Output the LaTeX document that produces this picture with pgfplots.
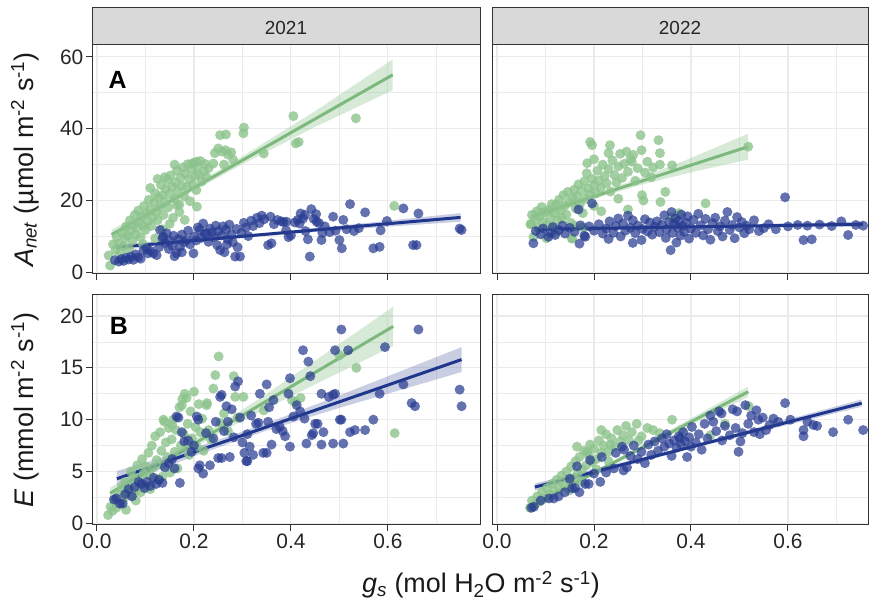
\documentclass[border=0pt]{standalone}
\usepackage{pgfplots}
\pgfplotsset{compat=1.18}
\usepackage{fontspec}
\setmainfont{Liberation Sans}
\definecolor{ptgreen}{RGB}{140,195,140}
\definecolor{lgreen}{RGB}{125,185,125}
\definecolor{ptblue}{RGB}{40,60,145}
\definecolor{lblue}{RGB}{30,55,140}
\definecolor{gridmaj}{RGB}{235,235,235}
\definecolor{stripgray}{RGB}{217,217,217}
\pgfplotsset{
  panel/.style={
    scale only axis, anchor=south west,
    axis line style={draw=black!80, line width=1bp},
    tick align=outside, major tick length=6bp, minor tick length=0pt,
    xtick pos=left, ytick pos=left,
    tick style={draw=black!80, line width=1bp},
    grid=both,
    major grid style={draw=gridmaj, line width=1.1bp},
    minor grid style={draw=gridmaj, line width=0.55bp},
    tick label style={font=\fontsize{21}{21}\selectfont, text=black!85},
    /pgf/number format/assume math mode=true,
    xtick={0,0.2,0.4,0.6}, minor xtick={0.1,0.3,0.5,0.7},
    yticklabel style={inner sep=2.5bp},
    xticklabel style={inner sep=3bp},
  },
  gpts/.style={only marks, mark=*, mark size=5bp, color=ptgreen, mark options={draw opacity=0, fill=ptgreen, fill opacity=0.8}},
  bpts/.style={only marks, mark=*, mark size=5bp, color=ptblue, mark options={draw opacity=0, fill=ptblue, fill opacity=0.72}},
  grib/.style={draw=none, fill=ptgreen, fill opacity=0.35},
  brib/.style={draw=none, fill=ptblue, fill opacity=0.25},
  gline/.style={lgreen, line width=3bp, no marks},
  bline/.style={lblue, line width=3bp, no marks},
  toprow/.style={ymin=-0.45, ymax=63.3, ytick={0,20,40,60}, minor ytick={10,30,50}, xticklabels={}},
  botrow/.style={ymin=-0.16, ymax=22.03, ytick={0,5,10,15,20}, minor ytick={2.5,7.5,12.5,17.5}, xticklabels={0.0,0.2,0.4,0.6}},
  leftcol/.style={xmin=-0.0103, xmax=0.79, width=388bp},
  rightcol/.style={xmin=-0.0103, xmax=0.765, width=376bp, yticklabels={}, y tick style={draw=none}},
}
\begin{document}
\begin{tikzpicture}[x=1bp,y=1bp]
\path[use as bounding box] (0,0) rectangle (873,605);
% strips
\draw[fill=stripgray, draw=black!80, line width=1bp] (92,560) rectangle (480,597);
\draw[fill=stripgray, draw=black!80, line width=1bp] (492,560) rectangle (868,597);
\node[anchor=base, font=\fontsize{19}{19}\selectfont, text=black!85] at (286,570) {2021};
\node[anchor=base, font=\fontsize{19}{19}\selectfont, text=black!85] at (680,570) {2022};

% ---------------- top left: 2021 Anet
\begin{axis}[panel, leftcol, toprow, at={(92bp,331bp)}, height=229bp]
\addplot[gpts] coordinates {
(0.024,4.7) (0.027,1.9) (0.033,7.8) (0.038,6.2) (0.041,9.9) (0.045,8.0) (0.048,5.5) (0.052,11.0) (0.055,7.3) (0.058,9.5)
(0.060,12.8) (0.063,10.2) (0.066,6.5) (0.068,14.5) (0.070,11.5) (0.073,8.8) (0.075,13.2) (0.078,16.0) (0.080,10.5) (0.083,12.4)
(0.085,17.2) (0.087,14.1) (0.090,9.8) (0.092,15.6) (0.095,13.0) (0.097,18.5) (0.100,11.8) (0.102,16.4) (0.105,14.2) (0.107,20.2)
(0.110,17.6) (0.112,12.9) (0.115,15.3) (0.118,19.4) (0.120,22.0) (0.122,16.8) (0.125,14.5) (0.127,20.8) (0.130,18.3) (0.132,24.3)
(0.135,21.5) (0.137,16.0) (0.140,19.6) (0.142,23.2) (0.145,25.8) (0.147,18.1) (0.150,21.8) (0.152,27.0) (0.155,23.9) (0.157,15.2)
(0.160,20.5) (0.162,25.0) (0.165,28.3) (0.167,22.6) (0.170,18.9) (0.172,26.4) (0.175,24.1) (0.177,29.2) (0.180,21.2) (0.182,27.5)
(0.185,23.7) (0.187,30.1) (0.190,25.9) (0.192,19.8) (0.195,28.6) (0.197,24.4) (0.200,30.5) (0.202,26.8) (0.205,22.9) (0.207,29.4)
(0.210,27.2) (0.213,31.0) (0.216,25.3) (0.220,28.1) (0.223,30.2) (0.226,26.5) (0.230,29.0) (0.206,18.3) (0.181,14.6) (0.150,13.5)
(0.120,9.5) (0.095,7.8) (0.135,12.0) (0.170,16.8) (0.110,23.5) (0.140,26.5) (0.125,26.0) (0.160,30.0) (0.205,30.8) (0.165,18.7)
(0.243,33.2) (0.250,34.5) (0.258,33.6) (0.265,34.0) (0.270,32.8) (0.277,33.4) (0.281,31.3) (0.254,38.2) (0.266,38.4) (0.302,38.7)
(0.303,40.3) (0.344,33.1) (0.405,43.5) (0.410,35.9) (0.416,36.3) (0.534,42.9) (0.613,18.5) (0.262,30.0) (0.240,30.3) (0.196,30.3)
};
\addplot[bpts] coordinates {
(0.037,3.4) (0.045,3.0) (0.050,3.7) (0.055,3.2) (0.060,4.1) (0.065,3.6) (0.070,4.4) (0.075,3.5) (0.080,5.0) (0.085,4.2)
(0.090,3.8) (0.096,6.2) (0.102,6.7) (0.105,5.3) (0.110,6.0) (0.116,5.3) (0.123,4.8) (0.128,7.0) (0.130,11.8) (0.135,9.5)
(0.137,9.9) (0.140,8.2) (0.144,10.9) (0.148,6.5) (0.150,8.8) (0.155,7.4) (0.158,10.2) (0.164,5.3) (0.168,9.2) (0.171,7.1)
(0.175,10.5) (0.180,8.4) (0.185,9.0) (0.188,11.6) (0.192,7.8) (0.199,5.3) (0.200,10.0) (0.205,8.9) (0.208,12.5) (0.212,11.8)
(0.215,9.6) (0.219,13.6) (0.222,10.8) (0.226,10.9) (0.230,8.5) (0.233,12.2) (0.237,11.1) (0.240,9.8) (0.245,13.0) (0.248,7.6)
(0.250,11.5) (0.254,6.2) (0.257,10.3) (0.260,12.8) (0.263,5.6) (0.266,11.9) (0.270,9.2) (0.273,13.3) (0.277,10.6) (0.280,8.4)
(0.285,4.4) (0.288,12.1) (0.295,4.4) (0.298,11.0) (0.303,13.8) (0.307,12.5) (0.312,10.1) (0.318,14.4) (0.322,12.9) (0.330,15.2)
(0.335,13.7) (0.340,15.8) (0.345,14.8) (0.353,7.6) (0.360,8.1) (0.358,15.5) (0.365,13.4) (0.372,14.6) (0.380,14.2) (0.390,11.7)
(0.395,9.8) (0.400,10.3) (0.408,13.9) (0.414,14.6) (0.420,16.4) (0.425,15.0) (0.430,11.5) (0.435,9.2) (0.439,4.4) (0.442,17.6)
(0.447,14.9) (0.452,16.2) (0.458,13.7) (0.463,9.0) (0.470,12.8) (0.480,11.2) (0.487,15.5) (0.492,11.6) (0.500,9.0) (0.505,6.7)
(0.508,14.6) (0.515,12.0) (0.522,19.0) (0.530,11.5) (0.540,12.3) (0.553,16.7) (0.570,6.7) (0.583,7.1) (0.585,11.7) (0.598,14.3)
(0.632,17.8) (0.652,7.6) (0.659,7.6) (0.663,16.4) (0.748,12.2) (0.752,11.8) (0.465,11.0) (0.385,14.0) (0.290,7.0) (0.268,7.8)
(0.160,4.5) (0.175,5.6) (0.391,14.1) (0.418,13.6) (0.429,16.0) (0.453,14.1)
};
\addplot[grib] coordinates {(0.03,11.9) (0.10,16.8) (0.17,22.0) (0.30,32.3) (0.45,44.9) (0.61,59.3) (0.61,50.7) (0.45,40.5) (0.30,30.1) (0.17,20.5) (0.10,15.0) (0.03,9.1)} -- cycle;
\addplot[gline] coordinates {(0.03,10.5) (0.61,55.0)};
\addplot[brib] coordinates {(0.04,7.9) (0.2,9.37) (0.35,11.07) (0.5,12.98) (0.75,16.5) (0.75,14.1) (0.5,11.78) (0.35,10.17) (0.2,8.37) (0.04,6.1)} -- cycle;
\addplot[bline] coordinates {(0.04,7.0) (0.75,15.3)};
\node[anchor=base west, font=\bfseries\fontsize{25}{25}\selectfont] at (rel axis cs:0.034,0.81) {A};
\end{axis}

% ---------------- top right: 2022 Anet
\begin{axis}[panel, rightcol, toprow, at={(492bp,331bp)}, height=229bp]
\addplot[gpts] coordinates {
(0.070,13.5) (0.072,16.0) (0.075,9.9) (0.078,14.8) (0.082,17.0) (0.085,12.5) (0.088,15.5) (0.092,18.2) (0.095,14.0) (0.098,16.8)
(0.102,9.5) (0.104,13.2) (0.107,17.5) (0.110,15.2) (0.113,19.0) (0.116,12.8) (0.119,16.4) (0.122,18.8) (0.125,14.6) (0.128,20.2)
(0.131,17.3) (0.134,15.0) (0.137,21.5) (0.140,18.6) (0.143,16.1) (0.146,22.4) (0.149,19.5) (0.152,13.8) (0.154,9.5) (0.156,20.8)
(0.159,23.0) (0.162,17.8) (0.165,21.2) (0.168,24.5) (0.171,19.0) (0.174,22.8) (0.177,16.5) (0.180,25.3) (0.183,20.5) (0.185,27.6)
(0.186,30.4) (0.188,23.4) (0.191,21.8) (0.192,36.3) (0.196,35.4) (0.196,26.0) (0.200,24.2) (0.200,31.5) (0.204,22.0) (0.207,28.3)
(0.210,25.6) (0.214,23.5) (0.218,30.0) (0.222,26.8) (0.226,24.8) (0.230,28.8) (0.233,35.4) (0.234,22.5) (0.238,31.2) (0.242,27.1)
(0.246,25.0) (0.250,29.5) (0.254,33.0) (0.258,26.3) (0.262,30.2) (0.267,33.6) (0.270,28.0) (0.275,31.5) (0.278,30.8) (0.281,32.7)
(0.285,25.5) (0.290,29.0) (0.296,38.2) (0.298,34.0) (0.299,21.5) (0.302,20.0) (0.305,27.8) (0.310,30.8) (0.318,26.5) (0.322,29.2)
(0.333,36.8) (0.336,33.2) (0.336,30.0) (0.337,19.6) (0.347,22.4) (0.361,29.8) (0.361,15.4) (0.375,16.5) (0.430,19.2) (0.518,35.0)
(0.178,12.5) (0.200,18.5) (0.215,17.0) (0.250,20.5) (0.270,17.5) (0.120,11.0) (0.160,13.0) (0.069,13.4) (0.155,9.4) (0.230,33.2)
};
\addplot[bpts] coordinates {
(0.075,8.1) (0.080,11.5) (0.090,10.6) (0.095,12.2) (0.106,9.9) (0.110,11.0) (0.115,12.6) (0.120,10.4) (0.128,11.8) (0.135,13.0)
(0.140,10.8) (0.150,12.4) (0.160,11.3) (0.168,17.5) (0.172,13.1) (0.180,10.2) (0.182,9.9) (0.190,12.8) (0.196,19.2) (0.200,11.6)
(0.210,13.4) (0.218,10.8) (0.225,12.2) (0.232,14.2) (0.240,11.0) (0.245,12.9) (0.250,15.0) (0.255,10.0) (0.260,13.6) (0.265,11.6)
(0.270,15.8) (0.275,12.4) (0.280,14.5) (0.285,10.9) (0.290,13.0) (0.298,9.0) (0.300,12.1) (0.305,14.8) (0.310,11.4) (0.315,13.9)
(0.320,10.5) (0.325,12.7) (0.330,14.2) (0.335,11.2) (0.340,13.3) (0.345,15.9) (0.348,9.6) (0.350,12.0) (0.355,14.0) (0.358,6.2)
(0.360,16.8) (0.362,11.0) (0.365,13.6) (0.368,15.0) (0.370,8.3) (0.372,12.5) (0.375,14.3) (0.378,10.2) (0.380,16.1) (0.383,12.9)
(0.386,11.3) (0.390,13.8) (0.393,15.6) (0.396,9.4) (0.400,12.2) (0.405,14.6) (0.410,11.0) (0.415,16.3) (0.420,13.1) (0.425,10.3)
(0.430,14.9) (0.435,12.0) (0.440,9.1) (0.445,13.7) (0.450,15.2) (0.455,11.5) (0.460,12.8) (0.465,10.0) (0.470,14.4) (0.475,16.8)
(0.480,11.8) (0.485,13.2) (0.490,9.5) (0.495,15.4) (0.500,12.5) (0.505,14.0) (0.510,10.9) (0.515,13.0) (0.520,12.0) (0.530,14.5)
(0.540,11.5) (0.550,12.3) (0.560,13.4) (0.575,12.0) (0.594,20.9) (0.600,12.8) (0.620,13.2) (0.632,9.0) (0.640,13.0) (0.649,9.2)
(0.665,13.3) (0.690,12.9) (0.710,14.2) (0.724,10.4) (0.740,13.2) (0.755,13.0) (0.170,8.0) (0.230,9.3) (0.280,8.2)
};
\addplot[grib] coordinates {(0.071,17.1) (0.15,19.84) (0.22,22.7) (0.3,26.48) (0.4,31.84) (0.518,38.6) (0.518,31.4) (0.4,27.84) (0.3,24.48) (0.22,21.3) (0.15,18.04) (0.071,13.9)} -- cycle;
\addplot[gline] coordinates {(0.071,15.5) (0.518,35.0)};
\addplot[brib] coordinates {(0.078,12.7) (0.4,13.02) (0.755,14.11) (0.755,12.71) (0.4,12.32) (0.078,11.3)} -- cycle;
\addplot[bline] coordinates {(0.078,12.0) (0.755,13.41)};
\end{axis}

% ---------------- bottom left: 2021 E
\begin{axis}[panel, leftcol, botrow, at={(92bp,80bp)}, height=230bp]
\addplot[gpts] coordinates {
(0.023,0.8) (0.028,1.6) (0.032,1.2) (0.036,2.2) (0.040,1.5) (0.044,2.8) (0.048,1.9) (0.052,3.4) (0.055,2.4) (0.058,4.0)
(0.062,2.9) (0.066,3.6) (0.070,5.0) (0.073,2.7) (0.076,4.4) (0.080,3.2) (0.083,5.6) (0.086,4.0) (0.090,3.0) (0.093,6.2)
(0.096,4.8) (0.100,5.5) (0.103,3.6) (0.106,6.8) (0.110,4.6) (0.113,7.5) (0.116,5.4) (0.120,8.4) (0.123,6.1) (0.126,4.2)
(0.130,8.8) (0.133,7.0) (0.136,5.6) (0.139,9.8) (0.142,7.8) (0.145,6.4) (0.148,9.2) (0.151,4.9) (0.154,8.1) (0.157,10.0)
(0.160,6.9) (0.163,9.0) (0.166,5.3) (0.170,11.2) (0.173,7.5) (0.176,12.0) (0.179,8.6) (0.181,12.5) (0.185,12.1) (0.187,9.6)
(0.190,6.6) (0.193,10.8) (0.196,8.2) (0.200,12.7) (0.203,9.3) (0.206,7.4) (0.210,11.5) (0.213,8.8) (0.217,10.1) (0.220,7.0)
(0.226,11.4) (0.230,9.0) (0.235,8.1) (0.240,13.0) (0.244,14.3) (0.251,16.1) (0.255,9.7) (0.262,10.6) (0.270,8.9) (0.282,14.2)
(0.290,10.2) (0.302,12.2) (0.344,10.9) (0.402,11.9) (0.409,11.7) (0.420,12.1) (0.500,16.2) (0.535,15.0) (0.614,8.7) (0.060,1.3)
(0.080,2.2) (0.110,3.3) (0.135,4.5) (0.227,11.6) (0.285,12.2) (0.175,11.4) (0.137,10.0) (0.155,9.5)
};
\addplot[bpts] coordinates {
(0.035,2.3) (0.040,2.4) (0.047,1.9) (0.053,1.9) (0.058,2.8) (0.065,3.3) (0.072,2.6) (0.078,3.5) (0.086,4.0) (0.092,3.8)
(0.098,3.4) (0.103,4.0) (0.110,3.6) (0.117,4.4) (0.122,3.8) (0.128,4.2) (0.135,3.9) (0.140,5.4) (0.148,5.8) (0.155,6.2)
(0.160,5.3) (0.164,10.3) (0.168,10.2) (0.171,3.9) (0.175,8.8) (0.180,7.9) (0.188,8.0) (0.195,6.9) (0.200,7.5) (0.206,10.3)
(0.209,10.0) (0.209,5.3) (0.212,5.6) (0.219,4.8) (0.225,8.7) (0.233,5.6) (0.240,8.2) (0.245,9.8) (0.250,6.3) (0.254,12.2)
(0.257,12.4) (0.257,6.3) (0.262,8.9) (0.267,11.3) (0.270,9.8) (0.274,6.4) (0.278,11.0) (0.282,8.3) (0.285,13.2) (0.291,13.7)
(0.295,10.2) (0.300,7.8) (0.304,6.8) (0.308,6.0) (0.310,8.6) (0.315,7.4) (0.318,10.4) (0.322,6.6) (0.328,9.6) (0.333,9.7)
(0.336,12.5) (0.343,6.8) (0.350,13.4) (0.350,6.8) (0.353,9.8) (0.355,11.2) (0.360,7.6) (0.364,11.9) (0.370,9.1) (0.377,9.3)
(0.383,8.9) (0.388,8.4) (0.395,12.5) (0.398,14.0) (0.398,7.4) (0.405,10.3) (0.412,11.4) (0.419,10.8) (0.425,16.7) (0.428,10.1)
(0.432,7.7) (0.436,15.6) (0.440,14.2) (0.443,8.5) (0.446,8.7) (0.450,9.6) (0.455,9.6) (0.463,12.5) (0.463,7.6) (0.467,8.8)
(0.478,12.2) (0.487,7.7) (0.487,12.4) (0.491,12.5) (0.491,16.7) (0.501,10.0) (0.504,10.0) (0.504,18.7) (0.508,7.7) (0.518,16.7)
(0.522,8.8) (0.532,9.0) (0.553,9.0) (0.570,10.0) (0.583,12.5) (0.594,17.0) (0.632,13.4) (0.649,11.6) (0.656,11.3) (0.663,18.7)
(0.748,12.9) (0.752,11.3) (0.310,6.0)
};
\addplot[grib] coordinates {(0.027,3.45) (0.15,6.64) (0.25,9.45) (0.35,12.5) (0.45,15.7) (0.611,20.9) (0.611,17.1) (0.45,13.4) (0.35,11.1) (0.25,8.65) (0.15,5.94) (0.027,2.35)} -- cycle;
\addplot[gline] coordinates {(0.027,2.9) (0.611,19.0)};
\addplot[brib] coordinates {(0.041,5.05) (0.2,7.28) (0.35,9.65) (0.5,12.34) (0.752,17.0) (0.752,14.6) (0.5,11.14) (0.35,8.95) (0.2,6.48) (0.041,3.55)} -- cycle;
\addplot[bline] coordinates {(0.041,4.3) (0.752,15.8)};
\node[anchor=base west, font=\bfseries\fontsize{25}{25}\selectfont] at (rel axis cs:0.037,0.83) {B};
\end{axis}

% ---------------- bottom right: 2022 E
\begin{axis}[panel, rightcol, botrow, at={(492bp,80bp)}, height=230bp]
\addplot[gpts] coordinates {
(0.068,1.5) (0.072,2.2) (0.078,1.8) (0.083,2.6) (0.088,2.1) (0.093,3.0) (0.098,2.4) (0.103,3.4) (0.108,2.8) (0.113,3.8)
(0.118,3.1) (0.123,4.2) (0.128,3.5) (0.133,4.6) (0.138,3.7) (0.143,5.0) (0.148,4.1) (0.153,5.5) (0.158,4.4) (0.162,6.0)
(0.166,4.8) (0.170,6.4) (0.175,5.2) (0.180,7.0) (0.184,5.6) (0.188,6.6) (0.192,7.6) (0.196,5.9) (0.200,7.2) (0.205,6.2)
(0.210,8.0) (0.215,6.8) (0.220,7.5) (0.225,8.6) (0.230,6.9) (0.236,8.2) (0.242,7.4) (0.248,9.0) (0.254,7.9) (0.260,8.5)
(0.266,9.4) (0.272,8.0) (0.278,8.8) (0.288,9.6) (0.292,8.0) (0.298,8.4) (0.310,9.2) (0.322,9.0) (0.335,8.7) (0.361,10.0)
(0.380,9.0) (0.440,8.5) (0.470,9.6) (0.519,11.3) (0.150,3.2) (0.175,4.0) (0.205,5.2) (0.230,6.0) (0.165,7.4) (0.215,9.0)
(0.186,6.9) (0.234,7.6)
};
\addplot[bpts] coordinates {
(0.071,1.5) (0.076,1.6) (0.090,2.2) (0.107,2.4) (0.117,2.4) (0.127,2.6) (0.140,3.0) (0.155,3.4) (0.161,3.4) (0.170,3.0)
(0.182,3.8) (0.189,3.8) (0.192,6.1) (0.200,4.8) (0.213,4.0) (0.216,6.4) (0.225,4.9) (0.241,5.3) (0.245,6.8) (0.258,7.4)
(0.261,5.1) (0.262,7.1) (0.268,5.4) (0.275,6.5) (0.282,7.5) (0.290,6.2) (0.298,6.9) (0.305,5.8) (0.312,7.6) (0.318,6.6)
(0.325,7.9) (0.332,7.0) (0.340,8.2) (0.345,7.4) (0.350,8.6) (0.355,7.7) (0.360,6.5) (0.365,8.0) (0.370,7.3) (0.375,8.4)
(0.377,8.2) (0.380,7.6) (0.384,8.8) (0.388,7.9) (0.392,6.4) (0.396,8.3) (0.400,7.4) (0.402,9.3) (0.410,7.8) (0.416,8.6)
(0.422,7.1) (0.428,9.6) (0.434,8.2) (0.440,10.4) (0.446,9.8) (0.452,8.9) (0.458,10.8) (0.463,10.6) (0.464,8.0) (0.470,9.4)
(0.480,8.5) (0.486,11.0) (0.492,9.2) (0.495,10.8) (0.498,6.9) (0.502,7.9) (0.506,8.7) (0.512,11.4) (0.518,9.6) (0.524,10.4)
(0.530,8.8) (0.535,10.9) (0.539,10.0) (0.542,8.6) (0.548,10.2) (0.555,9.0) (0.562,9.5) (0.570,10.1) (0.580,9.8) (0.594,11.6)
(0.605,10.0) (0.632,9.0) (0.632,8.4) (0.640,9.8) (0.652,9.5) (0.660,9.4) (0.693,8.8) (0.724,10.0) (0.755,9.0) (0.165,5.5)
(0.150,4.3)
};
\addplot[grib] coordinates {(0.068,1.95) (0.2,5.04) (0.35,8.82) (0.518,13.2) (0.518,12.2) (0.35,8.32) (0.2,4.68) (0.068,1.25)} -- cycle;
\addplot[gline] coordinates {(0.068,1.6) (0.518,12.7)};
\addplot[brib] coordinates {(0.078,3.85) (0.4,7.51) (0.752,11.95) (0.752,11.25) (0.4,7.21) (0.078,3.15)} -- cycle;
\addplot[bline] coordinates {(0.078,3.5) (0.752,11.59)};
\end{axis}

% axis titles
\node[rotate=90, anchor=base, font=\fontsize{27}{27}\selectfont, text=black!90] at (33,445.5) {\textit{A}\textsubscript{\textit{net}} (µmol m\textsuperscript{-2} s\textsuperscript{-1})};
\node[rotate=90, anchor=base, font=\fontsize{27}{27}\selectfont, text=black!90] at (33,195) {\textit{E} (mmol m\textsuperscript{-2} s\textsuperscript{-1})};
\node[anchor=base, font=\fontsize{27}{27}\selectfont, text=black!90] at (481,12) {\textit{g}\textsubscript{\textit{s}} (mol H\textsubscript{2}O m\textsuperscript{-2} s\textsuperscript{-1})};
\end{tikzpicture}
\end{document}
